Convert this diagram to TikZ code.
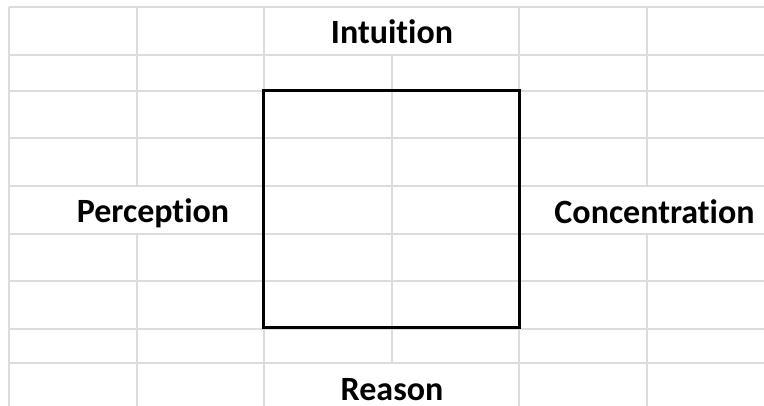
\documentclass[tikz,border=0pt]{standalone}
\usepackage{fontspec}
\setmainfont[Ligatures={NoCommon}]{Carlito}
\usepackage{tikz}
\usetikzlibrary{positioning}
\definecolor{cellline}{RGB}{218,220,221}
\tikzset{
  gridline/.style={line width=1.5pt, cellline},
  label text/.style={font=\fontsize{34}{40}\selectfont\bfseries, inner sep=0pt, anchor=base}
}

\begin{document}
\begin{tikzpicture}[x=1pt, y=-1pt]
\useasboundingbox (0,0) rectangle (764,406);
\fill[white] (0,0) rectangle (764,406);

% rows of the sheet
\draw[gridline] (9,7) -- (764,7);
\draw[gridline] (9,55) -- (764,55);
\draw[gridline] (9,91) -- (764,91);
\draw[gridline] (9,138) -- (764,138);
\draw[gridline] (9,186) -- (764,186);
\draw[gridline] (9,234) -- (764,234);
\draw[gridline] (9,281) -- (764,281);
\draw[gridline] (9,329) -- (764,329);
\draw[gridline] (9,363) -- (764,363);

% columns, broken where a text runs over them
\draw[gridline] (9,7) -- (9,406);
\draw[gridline] (137,7) -- (137,186);
\draw[gridline] (137,234) -- (137,406);
\draw[gridline] (264,7) -- (264,406);
\draw[gridline] (392,55) -- (392,363);
\draw[gridline] (519,7) -- (519,406);
\draw[gridline] (647,7) -- (647,186);
\draw[gridline] (647,234) -- (647,406);

% the square
\coordinate (NW) at (263,90.5);
\coordinate (SE) at (519,327.5);
\draw[line width=3pt, black] (NW) rectangle (SE);

\node[label text] (intuition) at (392,43.3) {Intuition};
\node[label text] (perception) at (153,222.7) {Perception};
\node[label text] (concentration) at (654.5,223.3) {Concentration};
\node[label text] (reason) at (392,400) {Reason};
\end{tikzpicture}
\end{document}
